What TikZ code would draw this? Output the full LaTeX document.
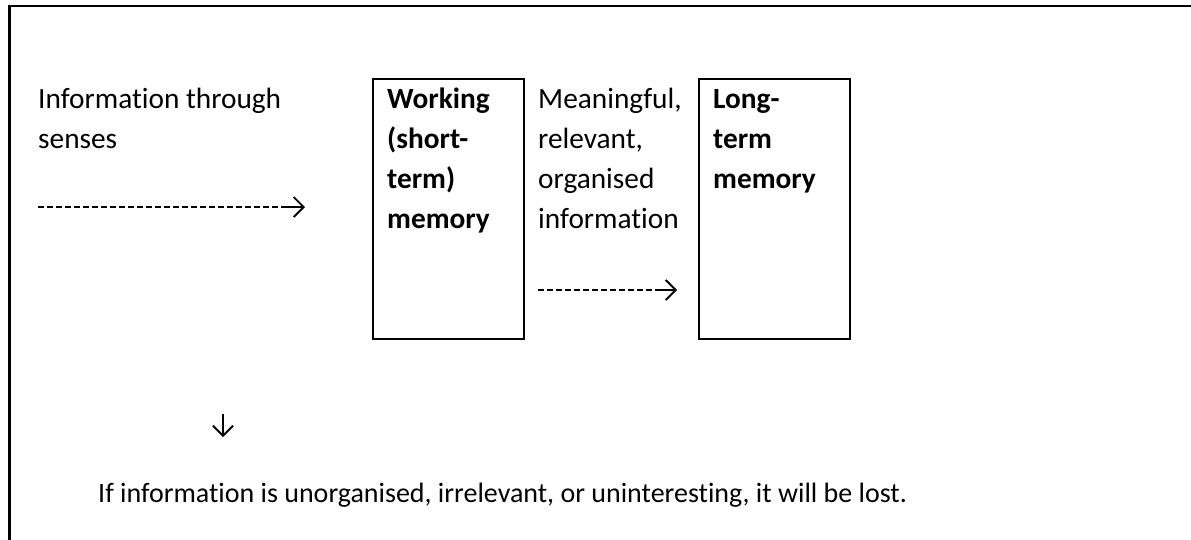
\documentclass[tikz,border=0pt]{standalone}
\usepackage{fontspec}
\setmainfont[Ligatures={NoCommon}]{Carlito}
\usetikzlibrary{arrows.meta}
\begin{document}
\begin{tikzpicture}[x=1pt,y=1pt,
  txt/.style={font=\fontsize{29.33}{40}\selectfont, align=left, inner sep=0pt, anchor=north west},
  btxt/.style={txt, font=\fontsize{29.33}{40}\selectfont\bfseries},
  membox/.style={draw, line width=2pt, inner sep=0pt, anchor=north west},
  dashpart/.style={line width=1.9pt, dash pattern=on 6.2pt off 2.8pt},
  tippart/.style={line width=1.9pt, -{Straight Barb[length=10pt, width=20pt, line width=1.9pt]}},
  frame/.style={line width=2.4pt}
]
\useasboundingbox (0,0) rectangle (1191,-539);
% outer frame (right and bottom edges lie outside the picture)
\coordinate (fbl) at (9.5,-560);
\coordinate (ftl) at (9.5,-6);
\coordinate (ftr) at (1210,-6);
\draw[frame] (fbl) -- (ftl) -- (ftr);

% boxes
\node[membox, minimum width=151.6pt, minimum height=260.5pt] (wm) at (371.7,-77.5) {};
\node[membox, minimum width=151pt, minimum height=260.5pt] (lm) at (698,-77.5) {};

% texts
\node[txt] (senses) at (38,-80) {\strut Information through\\senses};
\node[btxt] (wmtext) at (387,-80) {\strut Working\\(short-\\term)\\memory};
\node[txt] (mean) at (538,-80) {\strut Meaningful,\\relevant,\\organised\\information};
\node[btxt] (lmtext) at (713,-80) {\strut Long-\\term\\memory};
\node[font=\fontsize{28}{38}\selectfont, inner sep=0pt, anchor=base west] (lost) at (98,-502)
  {If information is unorganised, irrelevant, or uninteresting, it will be lost.};

% first arrow
\coordinate (a1s) at (38,-207);
\coordinate (a1m) at (283,-207);
\coordinate (a1e) at (305,-207);
\draw[dashpart] (a1s) -- (a1m);
\draw[tippart] (a1m) -- (a1e);

% second arrow
\coordinate (a2s) at (538,-290);
\coordinate (a2m) at (655,-290);
\coordinate (a2e) at (677,-290);
\draw[dashpart] (a2s) -- (a2m);
\draw[tippart] (a2m) -- (a2e);

% down arrow
\coordinate (d1) at (223,-414);
\coordinate (d2) at (223,-437);
\draw[tippart, line width=1.6pt] (d1) -- (d2);
\end{tikzpicture}
\end{document}
